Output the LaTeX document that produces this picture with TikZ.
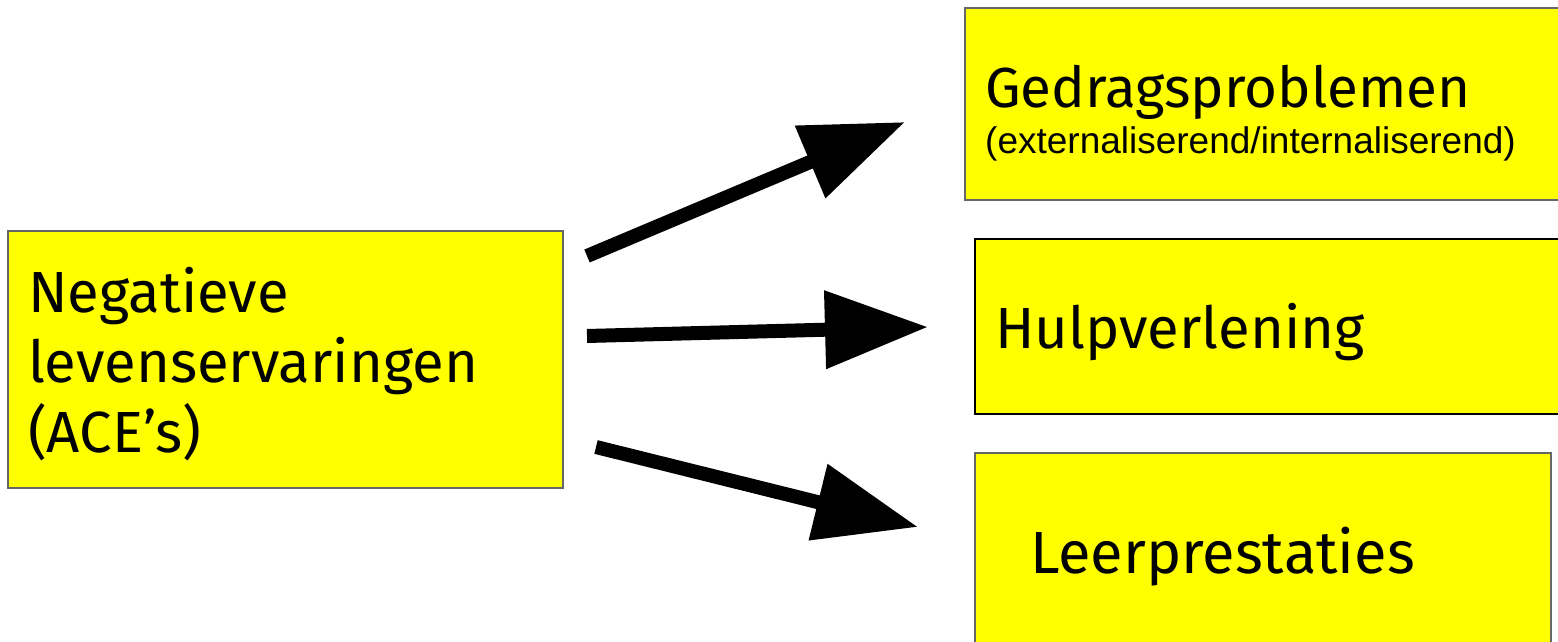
\documentclass[tikz,border=0pt]{standalone}
\usepackage{fontspec}
\setmainfont{Fira Sans}
\newfontfamily\arialfont{Liberation Sans}
\usetikzlibrary{arrows.meta}
\definecolor{boxyellow}{RGB}{255,255,0}
\definecolor{boxgray}{RGB}{102,102,102}
\tikzset{
  ybox/.style={draw=boxgray, line width=1.5pt, fill=boxyellow},
  ybox black/.style={draw=black, line width=1.5pt, fill=boxyellow},
  lbl/.style={anchor=base west, inner sep=0pt, font=\fontsize{58}{70}\selectfont},
  sublbl/.style={anchor=base west, inner sep=0pt, font=\arialfont\fontsize{37}{42}\selectfont},
  bigarrow/.style={line width=14pt, line cap=butt, -{Triangle[length=103pt,width=75pt]}}
}
\begin{document}
\begin{tikzpicture}[x=1pt,y=-1pt]
\useasboundingbox (0,0) rectangle (1558,642);
\clip (0,0) rectangle (1558,642);
\fill[white] (0,0) rectangle (1558,642);
% boxes
\draw[ybox] (8,231) rectangle (563,488);
\draw[ybox] (965,8) rectangle (1570,200);
\draw[ybox black] (975,239) rectangle (1570,414);
\draw[ybox] (975,453) rectangle (1551,660);
% texts
\node[lbl] (neg1) at (28,312) {Negatieve};
\node[lbl] (neg2) at (28,382) {levenservaringen};
\node[lbl] (neg3) at (28,452) {(ACE’s)};
\node[lbl, font=\fontsize{56.5}{68}\selectfont] (ged) at (985,107) {Gedragsproblemen};
\node[sublbl] (ext) at (985,153) {(externaliserend/internaliserend)};
\node[lbl] (hulp) at (995,348) {Hulpverlening};
\node[lbl, font=\fontsize{59.5}{70}\selectfont] (leer) at (1030,573) {Leerprestaties};
% arrows
\coordinate (a1s) at (587,256);
\coordinate (a1e) at (905,122);
\coordinate (a2s) at (587,336);
\coordinate (a2e) at (928,327);
\coordinate (a3s) at (596,447);
\coordinate (a3e) at (918,527);
\draw[bigarrow] (a1s) -- (a1e);
\draw[bigarrow] (a2s) -- (a2e);
\draw[bigarrow] (a3s) -- (a3e);
\end{tikzpicture}
\end{document}
